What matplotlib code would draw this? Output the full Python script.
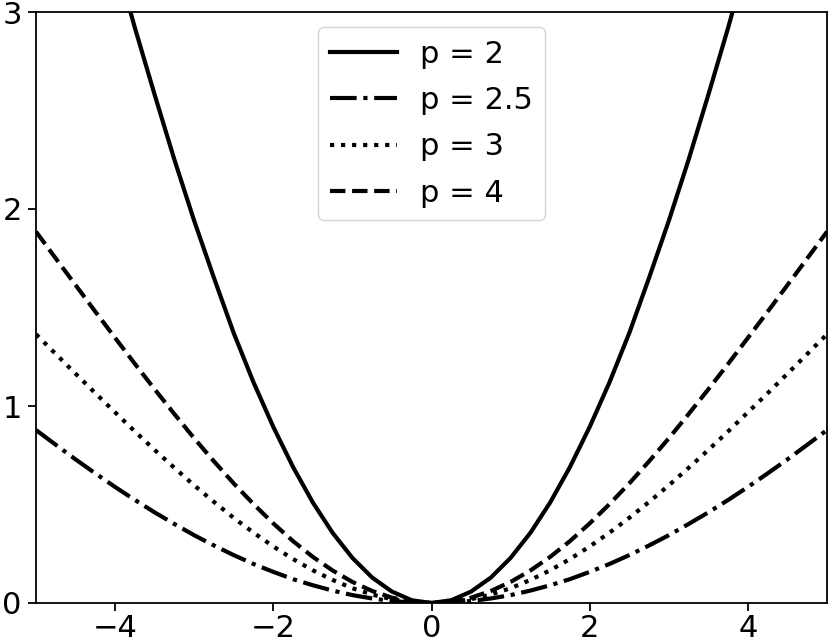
import numpy as np
import matplotlib
matplotlib.use('Agg')
import matplotlib.pyplot as plt

# x positions and curve values (symmetric about 0)
x = [-5.0, -4.75, -4.5, -4.25, -4.0, -3.75, -3.5, -3.25, -3.0, -2.75, -2.5,
     -2.25, -2.0, -1.75, -1.5, -1.25, -1.0, -0.75, -0.5, -0.25, 0.0,
     0.25, 0.5, 0.75, 1.0, 1.25, 1.5, 1.75, 2.0, 2.25, 2.5,
     2.75, 3.0, 3.25, 3.5, 3.75, 4.0, 4.25, 4.5, 4.75, 5.0]

p2 = [4.83, 4.42, 4.03, 3.65, 3.28, 2.92, 2.58, 2.25, 1.94, 1.65, 1.37,
      1.12, 0.894, 0.690, 0.510, 0.356, 0.229, 0.129, 0.058, 0.014, 0.0,
      0.014, 0.058, 0.129, 0.229, 0.356, 0.510, 0.690, 0.894, 1.12, 1.37,
      1.65, 1.94, 2.25, 2.58, 2.92, 3.28, 3.65, 4.03, 4.42, 4.83]

p25 = [0.878, 0.803, 0.729, 0.658, 0.589, 0.523, 0.460, 0.401, 0.344, 0.292, 0.243,
       0.198, 0.158, 0.121, 0.090, 0.063, 0.040, 0.023, 0.010, 0.003, 0.0,
       0.003, 0.010, 0.023, 0.040, 0.063, 0.090, 0.121, 0.158, 0.198, 0.243,
       0.292, 0.344, 0.401, 0.460, 0.523, 0.589, 0.658, 0.729, 0.803, 0.878]

p3 = [1.364, 1.264, 1.164, 1.065, 0.968, 0.871, 0.777, 0.686, 0.597, 0.513, 0.432,
      0.357, 0.287, 0.223, 0.166, 0.117, 0.075, 0.043, 0.019, 0.005, 0.0,
      0.005, 0.019, 0.043, 0.075, 0.117, 0.166, 0.223, 0.287, 0.357, 0.432,
      0.513, 0.597, 0.686, 0.777, 0.871, 0.968, 1.065, 1.164, 1.264, 1.364]

p4 = [1.885, 1.749, 1.614, 1.479, 1.346, 1.214, 1.085, 0.959, 0.836, 0.719, 0.607,
      0.502, 0.404, 0.314, 0.234, 0.165, 0.107, 0.061, 0.027, 0.007, 0.0,
      0.007, 0.027, 0.061, 0.107, 0.165, 0.234, 0.314, 0.404, 0.502, 0.607,
      0.719, 0.836, 0.959, 1.085, 1.214, 1.346, 1.479, 1.614, 1.749, 1.885]

labels = ['p = 2', 'p = 2.5', 'p = 3', 'p = 4']

fig = plt.figure(figsize=(8.3, 6.44), dpi=100)
ax = fig.add_axes([36/830, 41/644, 791/830, 591/644])

LW = 3
ax.plot(x, p2, color='black', linestyle='-', linewidth=LW, label=labels[0])
ax.plot(x, p25, color='black', linestyle='-.', linewidth=LW, label=labels[1])
ax.plot(x, p3, color='black', linestyle=':', linewidth=LW, label=labels[2])
ax.plot(x, p4, color='black', linestyle='--', linewidth=LW, label=labels[3])

ax.set_xlim(-5, 5)
ax.set_ylim(0, 3)
ax.set_xticks([-4, -2, 0, 2, 4])
ax.set_yticks([0, 1, 2, 3])
ax.tick_params(labelsize=22, length=5.8, width=1.3)
ax.tick_params(axis='x', pad=2.0)
ax.tick_params(axis='y', pad=4.5)
for s in ax.spines.values():
    s.set_linewidth(1.3)

ax.legend(loc='upper center', fontsize=22, handlelength=2.2,
          borderpad=0.4, borderaxespad=0.5, labelspacing=0.57,
          handletextpad=0.75)

fig.savefig('out.png', dpi=100)
